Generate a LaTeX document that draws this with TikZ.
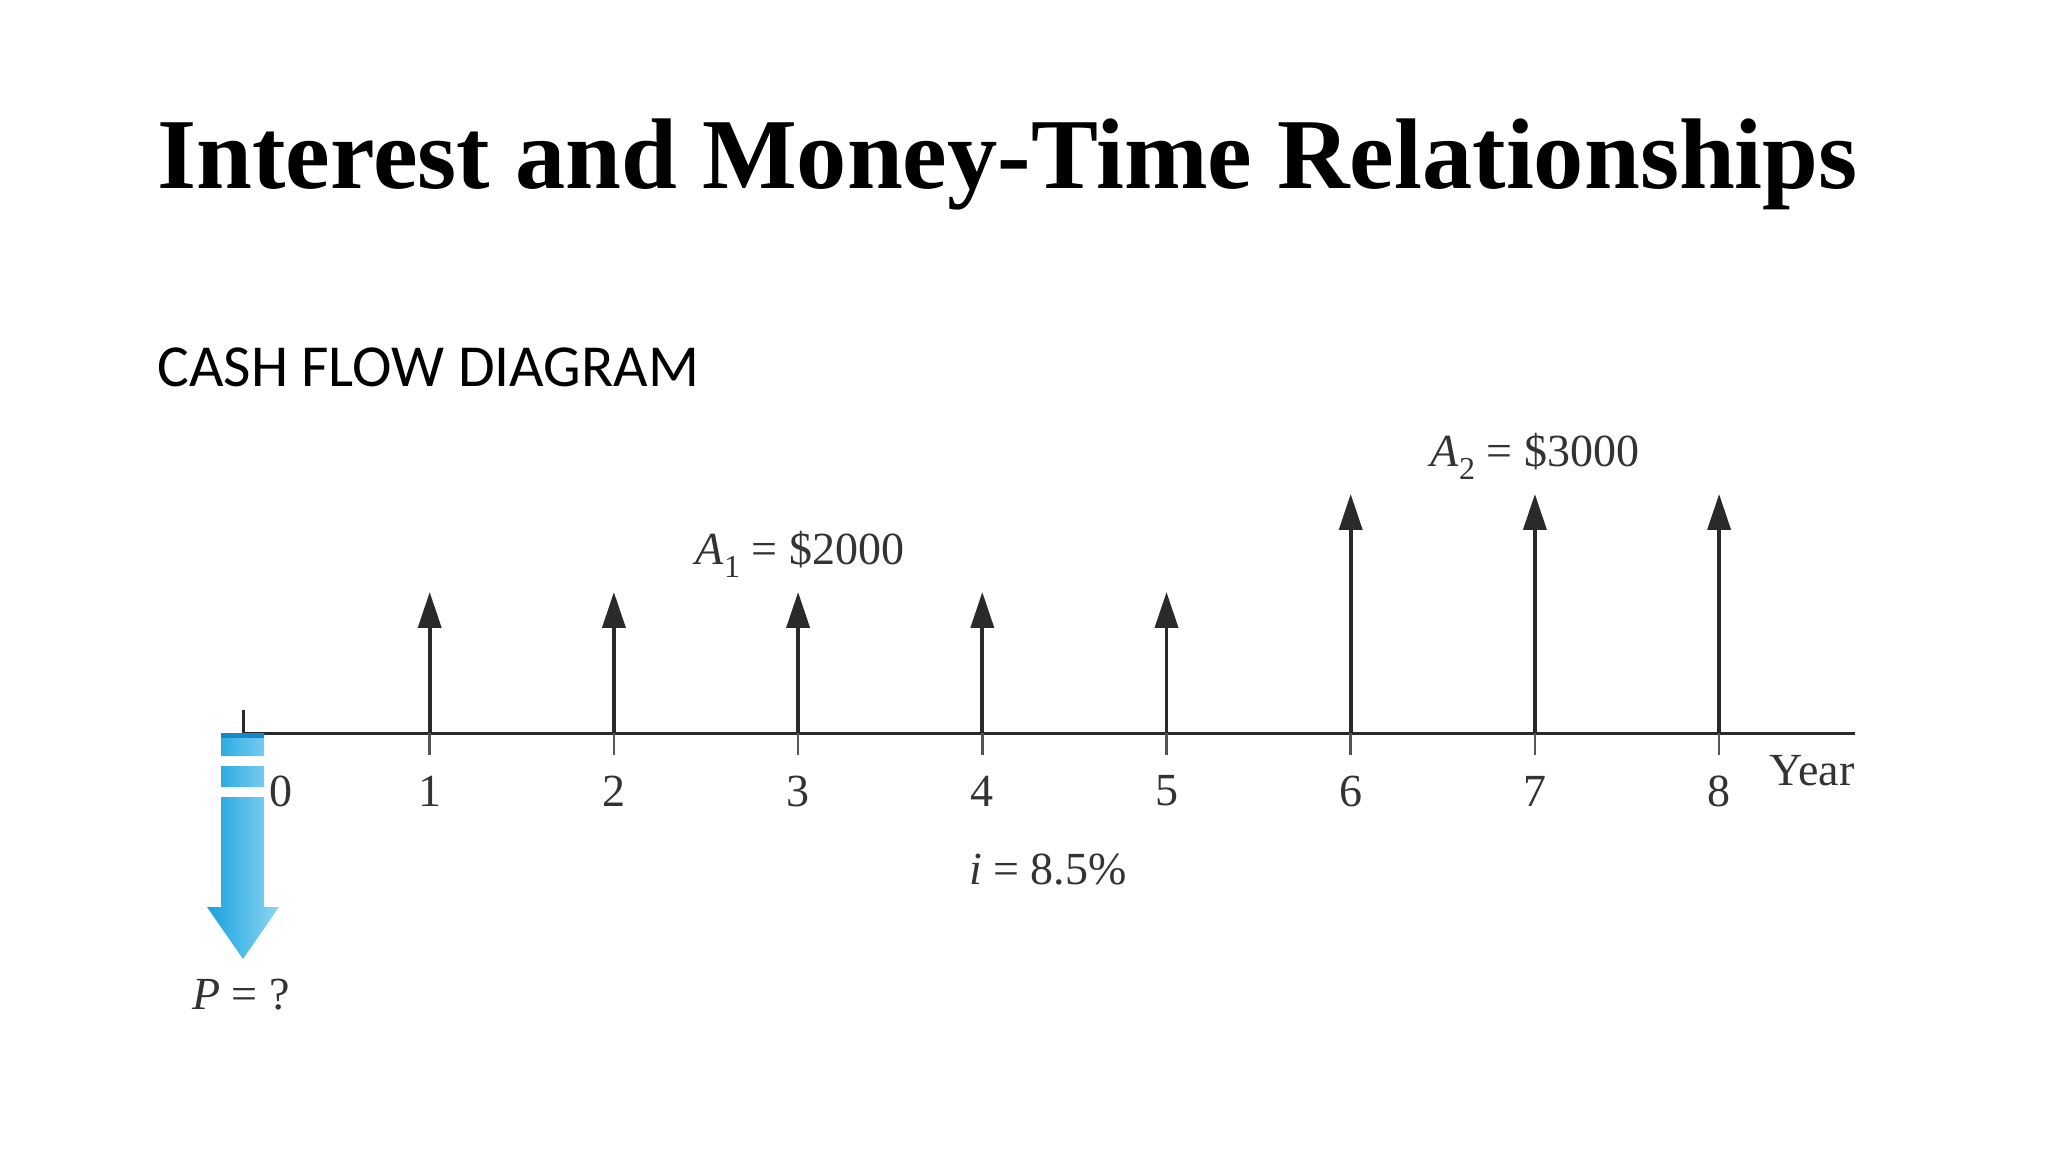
\documentclass[tikz,border=0pt]{standalone}
\usepackage{fontspec}
\setmainfont{Liberation Serif}
\newfontfamily\subfont{Carlito}
\usetikzlibrary{arrows.meta}
\definecolor{axisgray}{HTML}{2A2A2A}
\definecolor{textgray}{HTML}{333333}
\definecolor{pblue}{HTML}{16A2DC}
\definecolor{pbluelight}{HTML}{8ED6F4}
\definecolor{pbluedark}{HTML}{1489C6}
\newcommand{\lowsub}[1]{\raisebox{-0.28em}{\fontsize{16pt}{16pt}\selectfont #1}}

\begin{document}
\begin{tikzpicture}[x=0.5pt, y=0.5pt,
  axis/.style={draw=axisgray, line width=1.5pt},
  tick/.style={draw=axisgray!80, line width=1.3pt},
  cf/.style={-{Triangle[length=18pt, width=11.5pt]}, line width=1.9pt, axisgray},
  lbl/.style={font=\fontsize{23pt}{25pt}\selectfont, text=textgray, inner sep=0pt}
]
\useasboundingbox (0,0) rectangle (2048,1152);

% headings
\node[anchor=base west, inner sep=0pt, font=\fontsize{50.2pt}{54pt}\selectfont\bfseries] (title) at (157,963) {Interest and Money-Time Relationships};
\node[anchor=base west, inner sep=0pt, font=\fontsize{29.8pt}{33pt}\selectfont\subfont] (sub) at (157,765) {CASH FLOW DIAGRAM};

% time axis
\coordinate (t0) at (243,419);
\coordinate (tend) at (1855,419);
\draw[axis] (t0) -- (tend);
\foreach \k in {1,...,8} {
  \coordinate (t\k) at (245.5+\k*184.2,419);
  \coordinate (b\k) at (245.5+\k*184.2,397);
  \draw[tick] (t\k) -- (b\k);
  \node[lbl] (n\k) at (245.5+\k*184.2,361) {\k};
}
\coordinate (u0) at (243,442);
\draw[axis] (t0) -- (u0);
\node[lbl] (n0) at (281,361) {0};

% receipts
\foreach \k in {1,...,5} {
  \coordinate (h\k) at (245.5+\k*184.2,560);
  \draw[cf] (t\k) -- (h\k);
}
\foreach \k in {6,7,8} {
  \coordinate (h\k) at (245.5+\k*184.2,658);
  \draw[cf] (t\k) -- (h\k);
}

% present worth arrow
\shade[left color=pblue, right color=pbluelight]
  (221,419) rectangle (264,396)
  (221,386) rectangle (264,365)
  (221,355) -- (264,355) -- (264,245) -- (279,245) -- (243,193) -- (207,245) -- (221,245) -- cycle;
\fill[pbluedark] (221,419) rectangle (264,414);

% labels
\node[lbl] (a1) at (800,598) {\textit{A}\lowsub{1} = \$2000};
\node[lbl] (a2) at (1535,696) {\textit{A}\lowsub{2} = \$3000};
\node[lbl] (year) at (1812,381) {Year};
\node[lbl] (rate) at (1048,282) {\textit{i} = 8.5\%};
\node[lbl] (pw) at (241,157) {\textit{P} = ?};
\end{tikzpicture}
\end{document}
